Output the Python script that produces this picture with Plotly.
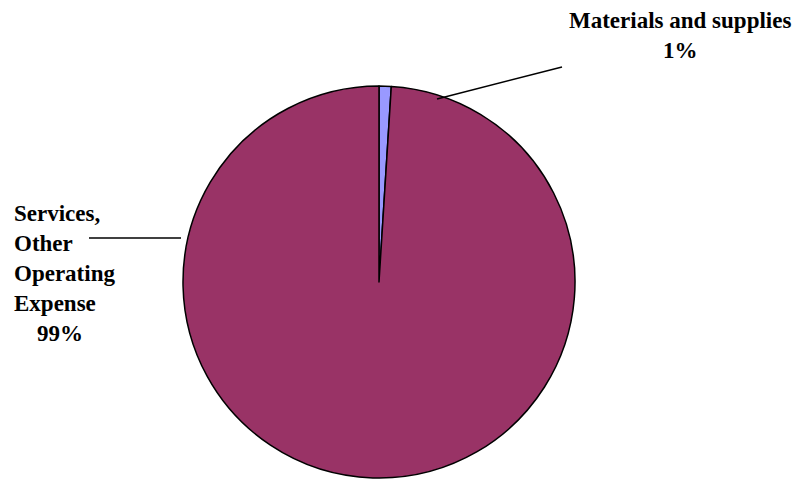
import plotly.graph_objects as go

labels = ["Materials and supplies", "Services, Other Operating Expense"]
values = [1.0, 99.0]
pct_text = ["1%", "99%"]
colors = ["#9999FF", "#993366"]

W, H = 805, 479
OFF = 8  # default page body margin

def px(x):
    return (x - OFF) / W

def py(y):
    return 1 - (y - OFF) / H

fig = go.Figure()
fig.add_trace(go.Pie(
    labels=labels, values=values, sort=False, direction="clockwise", rotation=0,
    marker=dict(colors=colors, line=dict(color="black", width=1.5)),
    textinfo="none", hoverinfo="label+percent", showlegend=False,
    domain=dict(x=[px(183), px(575)], y=[py(478), py(86)]),
))

font = dict(family="Liberation Serif, Times New Roman, serif", size=23, color="black")

fig.add_annotation(
    x=px(680), y=py(6), xref="paper", yref="paper", xanchor="center", yanchor="top",
    text=f"<b>{labels[0]}</b><br><b>{pct_text[0]}</b>", showarrow=False, align="center", font=font,
)
fig.add_annotation(
    x=px(12), y=py(199), xref="paper", yref="paper", xanchor="left", yanchor="top",
    text="<b>Services,</b><br><b>Other</b><br><b>Operating</b><br><b>Expense</b><br><b>\u00a0\u00a0\u00a0\u00a0" + pct_text[1] + "</b>",
    showarrow=False, align="left", font=font,
)

fig.add_shape(type="line", xref="paper", yref="paper",
              x0=px(437), y0=py(99), x1=px(562), y1=py(67), line=dict(color="black", width=1.5))
fig.add_shape(type="line", xref="paper", yref="paper",
              x0=px(89), y0=py(238), x1=px(181), y1=py(238), line=dict(color="black", width=1.5))

fig.update_layout(
    width=W, height=H, margin=dict(l=0, r=0, t=0, b=0),
    paper_bgcolor="white", plot_bgcolor="white",
)
fig.write_html("out.html")
